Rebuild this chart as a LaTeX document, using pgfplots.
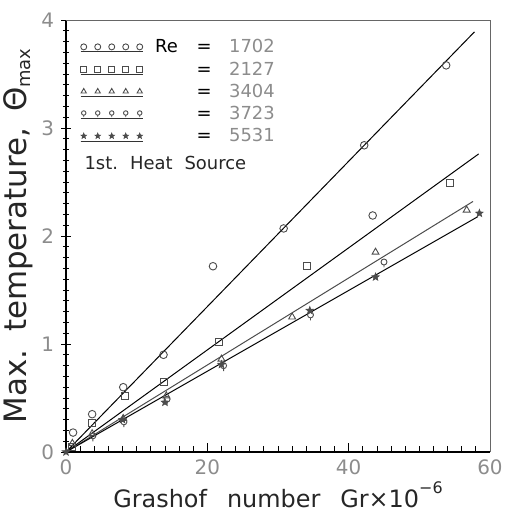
\documentclass[border=0pt]{standalone}
\usepackage{fontspec}
\setmainfont{DejaVu Sans}
\usepackage{graphicx}
\usepackage{pgfplots}
\pgfplotsset{compat=1.18}
\usetikzlibrary{plotmarks}

% circle with a short tail below it
\pgfdeclareplotmark{qcirc}{%
  \pgfpathcircle{\pgfqpoint{0pt}{0.25\pgfplotmarksize}}{0.75\pgfplotmarksize}%
  \pgfpathmoveto{\pgfqpoint{0pt}{-0.5\pgfplotmarksize}}%
  \pgfpathlineto{\pgfqpoint{0pt}{-1.1\pgfplotmarksize}}%
  \pgfusepathqstroke}
% five-pointed star
\pgfdeclareplotmark{fstar}{%
  \pgfpathmoveto{\pgfqpointpolar{90}{\pgfplotmarksize}}%
  \pgfpathlineto{\pgfqpointpolar{126}{0.42\pgfplotmarksize}}%
  \pgfpathlineto{\pgfqpointpolar{162}{\pgfplotmarksize}}%
  \pgfpathlineto{\pgfqpointpolar{198}{0.42\pgfplotmarksize}}%
  \pgfpathlineto{\pgfqpointpolar{234}{\pgfplotmarksize}}%
  \pgfpathlineto{\pgfqpointpolar{270}{0.42\pgfplotmarksize}}%
  \pgfpathlineto{\pgfqpointpolar{306}{\pgfplotmarksize}}%
  \pgfpathlineto{\pgfqpointpolar{342}{0.42\pgfplotmarksize}}%
  \pgfpathlineto{\pgfqpointpolar{18}{\pgfplotmarksize}}%
  \pgfpathlineto{\pgfqpointpolar{54}{0.42\pgfplotmarksize}}%
  \pgfpathclose
  \pgfusepathqfillstroke}

\definecolor{markgray}{gray}{0.30}
\definecolor{numgray}{gray}{0.55}

\newcommand{\legtext}[2]{\hspace{10bp}\makebox[38bp][l]{#1}\makebox[22bp]{=}\hspace{14bp}\textcolor{numgray}{#2}}

\begin{document}
\begin{tikzpicture}
\begin{axis}[
  scale only axis,
  width=424bp, height=432bp,
  xmin=0, xmax=60, ymin=0, ymax=4,
  axis x line*=bottom, axis y line*=left,
  axis line style={black, line width=1.6bp},
  xtick={0,20,40,60}, ytick={0,1,2,3,4},
  minor x tick num=9, minor y tick num=9,
  x tick style={black, line width=0.8bp},
  y tick style={black, line width=0.8bp},
  xtick align=inside, ytick align=center,
  major tick length=9bp, minor tick length=6bp,
  /pgf/number format/assume math mode=true,
  tick label style={font=\fontsize{20}{20}\selectfont, text=numgray},
  xticklabel style={yshift=-4bp},
  yticklabel style={xshift=-4bp},
  xlabel={Grashof\hspace{20bp}number\hspace{20bp}Gr×10\raisebox{1.1ex}{\fontsize{16}{16}\selectfont −6}},
  xlabel style={font=\fontsize{24}{24}\selectfont, text=black!85},
  ylabel={Max.\hspace{18bp}temperature,\hspace{16bp}Θ\raisebox{-0.25ex}{\fontsize{18}{18}\selectfont max}},
  ylabel style={font=\fontsize{31}{31}\selectfont, text=black!85},
  ylabel shift=2bp,
  clip=false,
  legend style={at={(axis cs:2.0,3.84)}, anchor=north west, draw=none, fill=none,
    inner sep=0pt, row sep=3.5bp, font=\fontsize{18}{18}\selectfont,
    cells={anchor=west}},
  legend cell align=left,
  legend image code/.code={%
    \draw[black!80, line width=0.8bp] (0bp,-5bp) -- (62bp,-5bp);
    \path[#1, mark size=3bp] plot coordinates {(3bp,0bp) (17bp,0bp) (31bp,0bp) (45bp,0bp) (59bp,0bp)};
  },
]
% fitted straight lines
\addplot[black, line width=1bp, forget plot] coordinates {(0,0) (57.8,3.89)};
\addplot[black, line width=1bp, forget plot] coordinates {(0,0) (58.4,2.76)};
\addplot[black!70, line width=1bp, forget plot] coordinates {(0,0) (57.6,2.32)};
\addplot[black, line width=1bp, forget plot] coordinates {(0,0) (58.3,2.18)};

% Re = 1702
\addplot[only marks, mark=o, mark size=3.8bp, markgray, line width=0.9bp] coordinates {
  (1.0,0.18) (3.7,0.35) (8.1,0.60) (13.8,0.90) (20.8,1.72)
  (30.8,2.07) (42.2,2.84) (53.8,3.58) (43.4,2.19)};
\addlegendentry{\legtext{Re}{1702}}
% Re = 2127
\addplot[only marks, mark=square, mark size=3.5bp, markgray, line width=0.9bp] coordinates {
  (0.9,0.05) (3.7,0.27) (8.3,0.52) (13.9,0.65) (21.7,1.02) (34.1,1.72) (54.4,2.49)};
\addlegendentry{\legtext{}{2127}}
% Re = 3404
\addplot[only marks, mark=triangle, mark size=4bp, markgray, line width=0.9bp] coordinates {
  (0.9,0.08) (3.7,0.17) (8.1,0.31) (14.2,0.52) (22.0,0.86) (32.0,1.25) (43.8,1.85) (56.7,2.24)};
\addlegendentry{\legtext{}{3404}}
% Re = 3723
\addplot[only marks, mark=qcirc, mark size=4bp, markgray, line width=0.9bp] coordinates {
  (3.8,0.14) (8.2,0.27) (14.3,0.48) (22.3,0.79) (34.6,1.26) (45.0,1.75)};
\addlegendentry{\legtext{}{3723}}
% Re = 5531
\addplot[only marks, mark=fstar, mark size=4bp, markgray, fill=markgray, line width=0.6bp] coordinates {
  (0,0) (8.0,0.30) (14.0,0.46) (22.0,0.81) (34.5,1.31) (43.8,1.62) (58.5,2.21)};
\addlegendentry{\legtext{}{5531}}

\node[anchor=west, font=\fontsize{18}{18}\selectfont, text=black!85, inner sep=0pt]
  at (axis cs:2.6,2.68) {1st.\hspace{12bp}Heat\hspace{12bp}Source};

% thin upper and right frame
\draw[black!60, line width=0.8bp] (rel axis cs:0,1) -- (rel axis cs:1,1) -- (rel axis cs:1,0);
\end{axis}
\pgfresetboundingbox
\path ([xshift=-66bp,yshift=-60bp]current axis.south west) rectangle ([xshift=15bp,yshift=20bp]current axis.north east);
\end{tikzpicture}
\end{document}
